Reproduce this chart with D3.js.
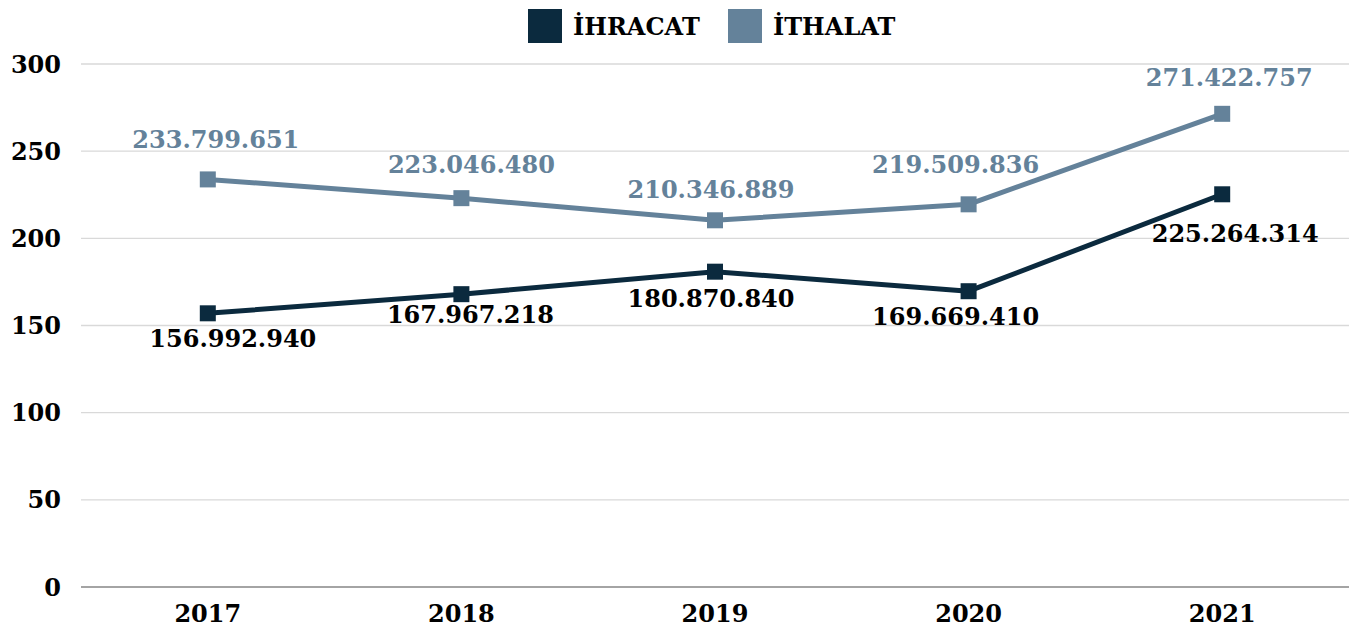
<!DOCTYPE html>
<html lang="tr">
<head>
<meta charset="utf-8">
<title>İhracat / İthalat</title>
<script src="https://cdnjs.cloudflare.com/ajax/libs/d3/7.8.5/d3.min.js"></script>
<style>
  body { margin: 0; background: #fff; }
  svg text { font-family: "DejaVu Serif", "Liberation Serif", serif; font-weight: bold; }
  .grid line { stroke: #d9d9d9; stroke-width: 1.3; }
</style>
</head>
<body>
<div id="chart"></div>
<script>
// years and values (thousand USD), axis shows millions
var years = ["2017", "2018", "2019", "2020", "2021"];
var ihracat = [156992940, 167967218, 180870840, 169669410, 225264314];
var ithalat = [233799651, 223046480, 210346889, 219509836, 271422757];
var yTicks = [0, 50, 100, 150, 200, 250, 300];

// label nudges (px) to match the hand-placed labels
var ihrDx = [25, 9, -4, -13, 13], ihrDy = [25, 20, 27, 25, 39];
var ithDx = [8, 10, -4, -13, 7], ithDy = [-40, -34, -31, -40, -36];

var W = 1354, H = 630;
var plotL = 81, plotR = 1349, plotT = 64, plotB = 587;

var darkC = "#0b2a3e", lightC = "#64829a";

var svg = d3.select("#chart").append("svg")
    .attr("width", W).attr("height", H);

var x = d3.scaleBand().domain(years).range([plotL, plotR]);
var y = d3.scaleLinear().domain([0, 300]).range([plotB, plotT]);

var fmt = function (v) { return d3.format(",")(v).replace(/,/g, "."); };

// gridlines
svg.append("g").attr("class", "grid")
  .selectAll("line").data(yTicks.filter(function (d) { return d > 0; }))
  .enter().append("line")
  .attr("x1", plotL).attr("x2", plotR)
  .attr("y1", function (d) { return y(d); })
  .attr("y2", function (d) { return y(d); });

svg.append("line")
  .attr("x1", plotL).attr("x2", plotR)
  .attr("y1", plotB).attr("y2", plotB)
  .attr("stroke", "#868686").attr("stroke-width", 1.5);

// y tick labels
svg.append("g").selectAll("text").data(yTicks).enter().append("text")
  .attr("x", 61).attr("y", function (d) { return y(d); })
  .attr("dy", "0.36em").attr("text-anchor", "end")
  .attr("font-size", 24).attr("fill", "#000")
  .text(function (d) { return d; });

// x labels
svg.append("g").selectAll("text").data(years).enter().append("text")
  .attr("x", function (d) { return x(d) + x.bandwidth() / 2; })
  .attr("y", 613).attr("dy", "0.36em").attr("text-anchor", "middle")
  .attr("font-size", 24).attr("fill", "#000")
  .text(function (d) { return d; });

var line = d3.line()
  .x(function (d, i) { return x(years[i]) + x.bandwidth() / 2; })
  .y(function (d) { return y(d / 1e6); });

function drawSeries(vals, color, labelColor, dx, dy) {
  svg.append("path")
    .attr("d", line(vals))
    .attr("fill", "none").attr("stroke", color)
    .attr("stroke-width", 5).attr("stroke-linejoin", "round");

  svg.append("g").selectAll("rect").data(vals).enter().append("rect")
    .attr("x", function (d, i) { return x(years[i]) + x.bandwidth() / 2 - 8; })
    .attr("y", function (d) { return y(d / 1e6) - 8; })
    .attr("width", 16).attr("height", 16)
    .attr("fill", color);

  svg.append("g").selectAll("text").data(vals).enter().append("text")
    .attr("x", function (d, i) { return x(years[i]) + x.bandwidth() / 2 + dx[i]; })
    .attr("y", function (d, i) { return y(d / 1e6) + dy[i]; })
    .attr("dy", "0.36em").attr("text-anchor", "middle")
    .attr("font-size", 24).attr("fill", labelColor)
    .text(function (d) { return fmt(d); });
}

drawSeries(ithalat, lightC, lightC, ithDx, ithDy);
drawSeries(ihracat, darkC, "#000", ihrDx, ihrDy);

// legend
var legend = [
  { name: "İHRACAT", color: darkC, x: 528 },
  { name: "İTHALAT", color: lightC, x: 728 }
];
var lg = svg.append("g").selectAll("g").data(legend).enter().append("g")
  .attr("transform", function (d) { return "translate(" + d.x + ",9)"; });
lg.append("rect").attr("width", 34).attr("height", 34)
  .attr("fill", function (d) { return d.color; });
lg.append("text").attr("x", 45).attr("y", 17).attr("dy", "0.36em")
  .attr("font-size", 24).attr("fill", "#000")
  .text(function (d) { return d.name; });
</script>
</body>
</html>
